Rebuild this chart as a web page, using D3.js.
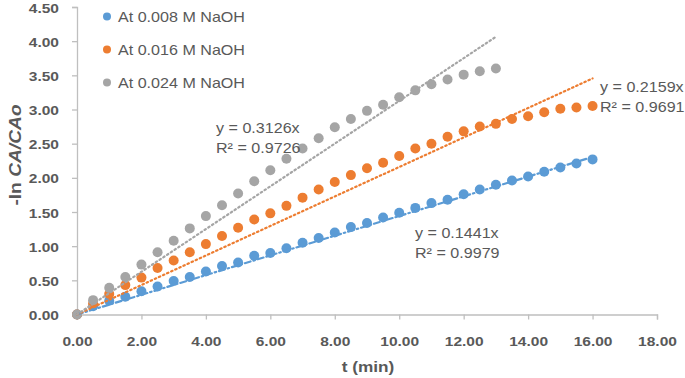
<!DOCTYPE html>
<html><head><meta charset="utf-8">
<script src="https://cdn.jsdelivr.net/npm/d3@7"></script>
<style>
html,body{margin:0;padding:0;background:#fff;}
svg{display:block;}
text{font-family:"Liberation Sans","DejaVu Sans",sans-serif;fill:#595959;}
</style></head>
<body>
<svg id="c" width="685" height="378"></svg>
<script>
const times = [0,0.5,1,1.5,2,2.5,3,3.5,4,4.5,5,5.5,6,6.5,7,7.5,8,8.5,9,9.5,10,10.5,11,11.5,12,12.5,13,13.5,14,14.5,15,15.5,16];
const naoh008 = [0,0.12,0.20,0.26,0.34,0.41,0.49,0.55,0.63,0.71,0.76,0.86,0.90,0.97,1.05,1.12,1.20,1.28,1.34,1.42,1.49,1.56,1.63,1.68,1.76,1.83,1.90,1.96,2.02,2.09,2.15,2.21,2.27];
const naoh016 = [0,0.16,0.30,0.43,0.54,0.68,0.79,0.91,1.03,1.15,1.27,1.39,1.48,1.59,1.71,1.83,1.94,2.04,2.14,2.22,2.32,2.43,2.50,2.60,2.68,2.75,2.79,2.86,2.90,2.96,3.01,3.03,3.05];
const naoh024 = [0,0.21,0.39,0.55,0.73,0.91,1.08,1.26,1.44,1.60,1.77,1.95,2.11,2.28,2.43,2.58,2.74,2.86,2.98,3.07,3.18,3.28,3.37,3.44,3.51,3.56,3.60];
const seriesNames = ["At 0.008 M NaOH","At 0.016 M NaOH","At 0.024 M NaOH"];
const slopes = [0.1441, 0.2159, 0.3126];
const r2 = ["0.9979","0.9691","0.9726"];
const trendEnd = [16, 16, 13];
const xTicks = [0,2,4,6,8,10,12,14,16,18];
const yTicks = [0,0.5,1,1.5,2,2.5,3,3.5,4,4.5];

const colors = ["#5B9BD5","#ED7D31","#A5A5A5"];
const dashes = ["6,3,1.5,3","1.5,3","1.5,3"];
const SX = 1.15; // horizontal text stretch

const svg = d3.select("#c");
const x = d3.scaleLinear().domain([0,18]).range([77,657]);
const y = d3.scaleLinear().domain([0,4.5]).range([314.5,7]);

// axes
const gx = svg.append("g").attr("transform","translate(0,314.5)")
  .call(d3.axisBottom(x).tickValues(xTicks).tickSize(5).tickPadding(0).tickFormat(d3.format(".2f")));
const gy = svg.append("g").attr("transform","translate(77,0)")
  .call(d3.axisLeft(y).tickValues(yTicks).tickSize(5).tickPadding(0).tickFormat(d3.format(".2f")));
[gx,gy].forEach(g=>{
  g.select(".domain").attr("stroke","#BFBFBF").attr("stroke-width",1.3);
  g.selectAll(".tick line").attr("stroke","#BFBFBF").attr("stroke-width",1.3);
  g.selectAll("text").attr("font-size",13.5).attr("font-weight","bold").attr("fill","#595959")
   .attr("font-family","Liberation Sans, sans-serif");
});
gx.selectAll(".tick text").attr("y",null).attr("dy",null)
  .attr("transform","translate(0,31) scale("+SX+",1)").attr("text-anchor","middle");
gy.selectAll(".tick text").attr("x",null).attr("dy",null)
  .attr("transform","translate(-18,5) scale("+SX+",1)").attr("text-anchor","end");

// data
const data = [naoh008, naoh016, naoh024];
data.forEach((vals,i)=>{
  svg.append("g").selectAll("circle").data(vals).enter().append("circle")
    .attr("cx",(d,j)=>x(times[j])).attr("cy",d=>y(d)).attr("r",5).attr("fill",colors[i]);
});
// trendlines
data.forEach((vals,i)=>{
  svg.append("line")
    .attr("x1",x(0)).attr("y1",y(0))
    .attr("x2",x(trendEnd[i])).attr("y2",y(slopes[i]*trendEnd[i]))
    .attr("stroke",colors[i]).attr("stroke-width",2.2)
    .attr("stroke-dasharray",dashes[i]).attr("stroke-linecap","round");
});

// trend labels
const lab = [[415,238],[600,92],[216,133]];
lab.forEach((p,i)=>{
  const g = svg.append("g").attr("transform","translate("+p[0]+","+p[1]+") scale("+SX+",1)");
  g.append("text").attr("font-size",14).text("y = "+slopes[i].toFixed(4)+"x");
  g.append("text").attr("y",20).attr("font-size",14).text("R² = "+r2[i]);
});

// legend
seriesNames.forEach((n,i)=>{
  const ly = 16.5 + i*33;
  svg.append("circle").attr("cx",107).attr("cy",ly).attr("r",4).attr("fill",colors[i]);
  svg.append("text").attr("transform","translate(118,"+(ly+5)+") scale("+SX+",1)")
    .attr("font-size",14).text(n);
});

// axis titles
svg.append("text").attr("transform","translate(368,372) scale("+SX+",1)")
  .attr("text-anchor","middle").attr("font-size",15).attr("font-weight","bold").text("t (min)");
const yt = svg.append("text").attr("transform","translate(21,155) rotate(-90) scale("+(SX+0.05)+",1)")
  .attr("text-anchor","middle").attr("font-size",16).attr("font-weight","bold");
yt.append("tspan").text("-ln ");
yt.append("tspan").attr("font-style","italic").text("CA/CAo");
</script>
</body></html>
